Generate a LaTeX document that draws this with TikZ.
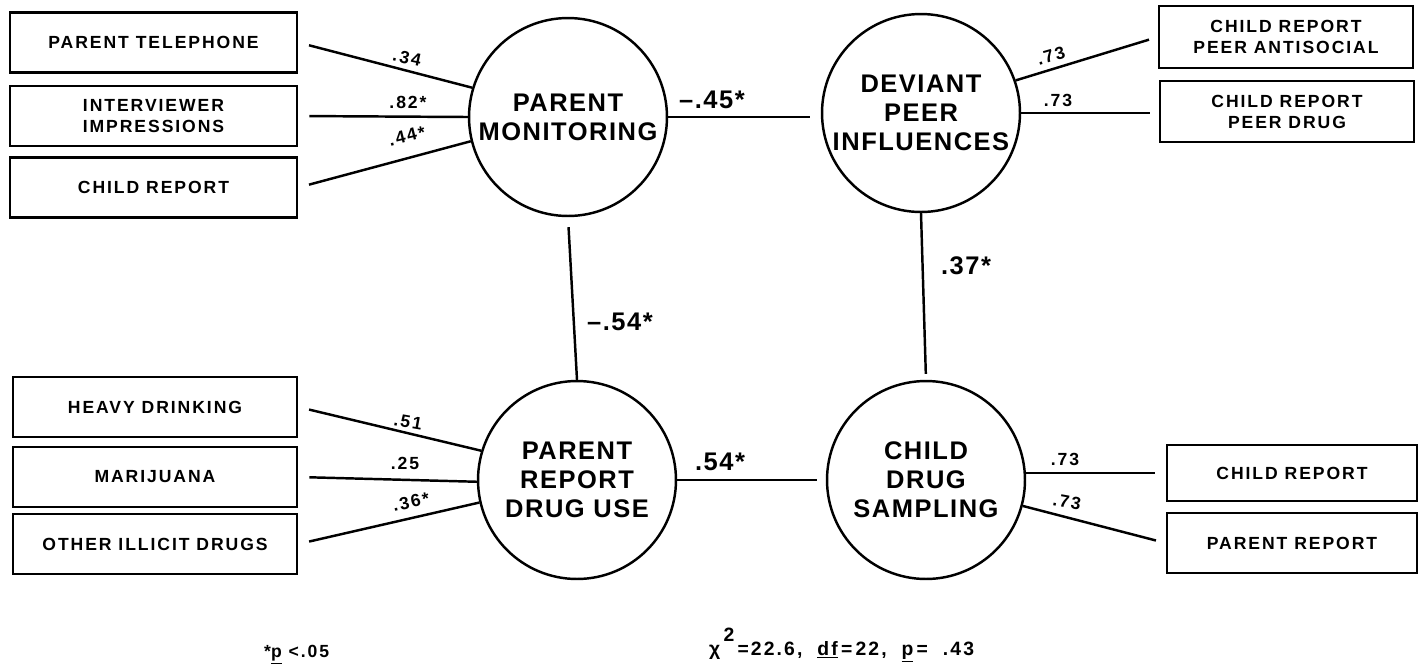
\documentclass[tikz,border=0pt]{standalone}
\usepackage{fontspec}
\setmainfont{Liberation Sans}
\newfontfamily\latentfont{Liberation Sans}[LetterSpace=6]
\newfontfamily\boxfont{Liberation Sans}[LetterSpace=11]

\def\lwidth{1.4pt}
\def\gap{0.22cm}

\tikzset{
  latent/.style={circle, draw, line width=\lwidth, minimum size=3.96cm,
    inner sep=0pt, align=center,
    font=\latentfont\bfseries\fontsize{14.5}{16.5}\selectfont},
  indicator/.style={rectangle, draw, line width=1.6pt, align=center,
    minimum height=1.2cm, minimum width=5.74cm,
    font=\boxfont\bfseries\fontsize{10}{12}\selectfont},
  loading/.style={font=\boxfont\bfseries\fontsize{10}{12}\selectfont},
  coef/.style={font=\latentfont\bfseries\fontsize{14.5}{16}\selectfont},
  link/.style={line width=\lwidth},
}

\begin{document}
\begin{tikzpicture}[x=0.02cm, y=-0.02cm]
  \useasboundingbox (0,0) rectangle (1421,664);

  % latent constructs
  \node[latent] (pm) at (568,117) {PARENT\\MONITORING};
  \node[latent] (dp) at (921,113) {DEVIANT\\PEER\\INFLUENCES};
  \node[latent] (pr) at (577,480) {PARENT\\REPORT\\DRUG USE};
  \node[latent] (cs) at (926,480) {CHILD\\DRUG\\SAMPLING};

  % structural paths
  \draw[link, shorten >=\gap] (pm.east) -- (pm.east -| dp.west);
  \draw[link, shorten <=0.2cm] (pm.south) -- (pr.north);
  \draw[link, shorten >=0.12cm] (dp.south) -- (cs.north);
  \draw[link, shorten >=0.18cm] (pr.east) -- (pr.east -| cs.west);
  \node[coef] at (712,100) {–.45*};
  \node[coef] at (620,322) {–.54*};
  \node[coef] at (966,266) {.37*};
  \node[coef] at (720,462) {.54*};

  % indicators, left side
  \foreach \name/\y/\txt/\ang in {
      pt/42.5/PARENT TELEPHONE/163,
      im/116/INTERVIEWER\\IMPRESSIONS/180,
      cr/187.5/CHILD REPORT/194
    } {
      \node[indicator] (\name) at (153.5,\y) {\txt};
      \draw[link, shorten <=\gap] (\name.east) -- (pm.\ang);
    };
  \foreach \name/\y/\txt/\ang in {
      hd/407/HEAVY DRINKING/163,
      mj/477/MARIJUANA/181,
      od/544/OTHER ILLICIT DRUGS/193
    } {
      \node[indicator, minimum width=5.68cm] (\name) at (155,\y) {\txt};
      \draw[link, shorten <=\gap] (\name.east) -- (pr.\ang);
    };

  % indicators, right side
  \node[indicator, minimum width=5.08cm, minimum height=1.24cm] (pa) at (1286,37)
    {CHILD REPORT\\PEER ANTISOCIAL};
  \node[indicator, minimum width=5.08cm, minimum height=1.22cm] (pd) at (1287,111.5)
    {CHILD REPORT\\PEER DRUG};
  \node[indicator, minimum width=5.0cm, minimum height=1.12cm] (cc) at (1292,473)
    {CHILD REPORT};
  \node[indicator, minimum width=5.0cm] (cp) at (1292,543) {PARENT REPORT};
  \draw[link, shorten >=0.18cm] (dp.19) -- (pa.west);
  \draw[link, shorten >=0.18cm] (dp.0) -- (dp.0 -| pd.west);
  \draw[link, shorten >=0.22cm] (cs.4) -- (cs.4 -| cc.west);
  \draw[link, shorten >=0.2cm] (cs.-15) -- (cp.west);

  % loadings
  \node[loading, rotate=-12] at (407,58) {.34};
  \node[loading] at (408,102) {.82*};
  \node[loading, rotate=14] at (407,136) {.44*};
  \node[loading, rotate=-10] at (408,422) {.51};
  \node[loading] at (405,463) {.25};
  \node[loading, rotate=12] at (411,502) {.36*};
  \node[loading, rotate=16] at (1051,56) {.73};
  \node[loading] at (1058,100) {.73};
  \node[loading] at (1065,459) {.73};
  \node[loading, rotate=-10] at (1067,502) {.73};

  % footnotes
  \node[loading, anchor=base west] (sig) at (258,657) {*\underline{p} <.05};
  \node[loading, anchor=base west, font=\boxfont\bfseries\fontsize{11}{13}\selectfont]
    (fit) at (703,655)
    {χ\,\raisebox{1.3ex}{2}\,=22.6,\hspace{0.3cm}\underline{df}\,=\,22,\hspace{0.3cm}\underline{p}\,=\ \ .43};
\end{tikzpicture}
\end{document}
